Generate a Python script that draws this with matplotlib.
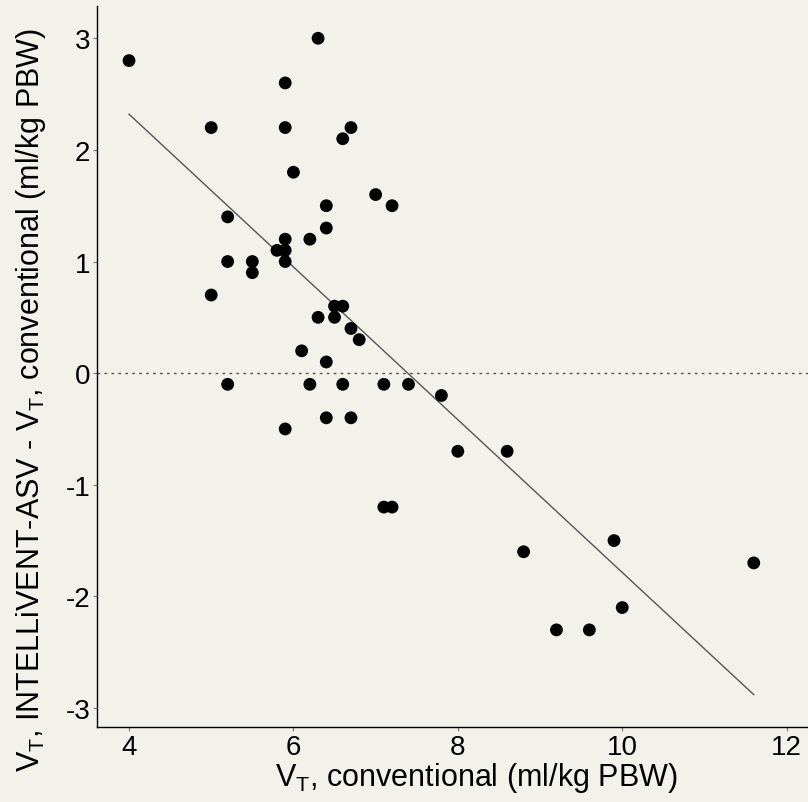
import matplotlib
matplotlib.use("Agg")
import matplotlib.pyplot as plt

vt_conv = [4.0, 5.0, 6.3, 5.9, 5.9, 6.7, 6.6, 6.0, 7.0, 7.2, 6.4, 5.2, 6.4, 6.2,
           5.9, 5.8, 5.9, 5.9, 5.2, 5.5, 5.5, 5.0, 6.5, 6.6, 6.3, 6.5, 6.7, 6.8,
           6.1, 6.4, 5.2, 6.2, 6.6, 7.1, 7.4, 7.8, 5.9, 6.4, 6.7, 8.0, 8.6, 7.1,
           7.2, 8.8, 9.9, 11.6, 10.0, 9.2, 9.6]
vt_diff = [2.8, 2.2, 3.0, 2.6, 2.2, 2.2, 2.1, 1.8, 1.6, 1.5, 1.5, 1.4, 1.3, 1.2,
           1.2, 1.1, 1.1, 1.0, 1.0, 1.0, 0.9, 0.7, 0.6, 0.6, 0.5, 0.5, 0.4, 0.3,
           0.2, 0.1, -0.1, -0.1, -0.1, -0.1, -0.1, -0.2, -0.5, -0.4, -0.4, -0.7,
           -0.7, -1.2, -1.2, -1.6, -1.5, -1.7, -2.1, -2.3, -2.3]

# regression line end points
fit_x = [4.0, 11.6]
fit_y = [2.32, -2.88]

xticks = [4, 6, 8, 10, 12]
yticks = [-3, -2, -1, 0, 1, 2, 3]

fam = "Liberation Sans"
plt.rcParams["font.family"] = [fam, "DejaVu Sans"]
plt.rcParams["mathtext.fontset"] = "custom"
plt.rcParams["mathtext.rm"] = fam
plt.rcParams["axes.unicode_minus"] = False

bg = "#f2f1ea"
fig = plt.figure(figsize=(8.08, 8.03), dpi=100, facecolor=bg)
# the original plot runs past the right edge of the picture
ax = fig.add_axes([0.12, 0.0934, 0.938, 0.898], facecolor=bg)

ax.axhline(0, color="#555555", lw=1, ls=(0, (2, 3)), zorder=1)
ax.plot(fit_x, fit_y, color="#555555", lw=1, zorder=2)
ax.scatter(vt_conv, vt_diff, s=85, color="black", zorder=3, edgecolors="none")

ax.set_xlim(3.61, 12.83)
ax.set_ylim(-3.17, 3.29)
ax.set_xticks(xticks)
ax.set_yticks(yticks)
ax.tick_params(labelsize=20, length=3, width=0.8, color="#777777",
               labelcolor="black", pad=2)
for s in ["top", "right"]:
    ax.spines[s].set_visible(False)
for s in ["left", "bottom"]:
    ax.spines[s].set_linewidth(1)

ax.set_xlabel(r"$\mathregular{V_T}$, conventional (ml/kg PBW)", fontsize=22, labelpad=0)
ax.set_ylabel(r"$\mathregular{V_T}$, INTELLiVENT-ASV - $\mathregular{V_T}$, conventional (ml/kg PBW)",
              fontsize=22)
ax.yaxis.set_label_coords(-0.064, 0.455)

fig.savefig("out.png", dpi=100, facecolor=bg)
